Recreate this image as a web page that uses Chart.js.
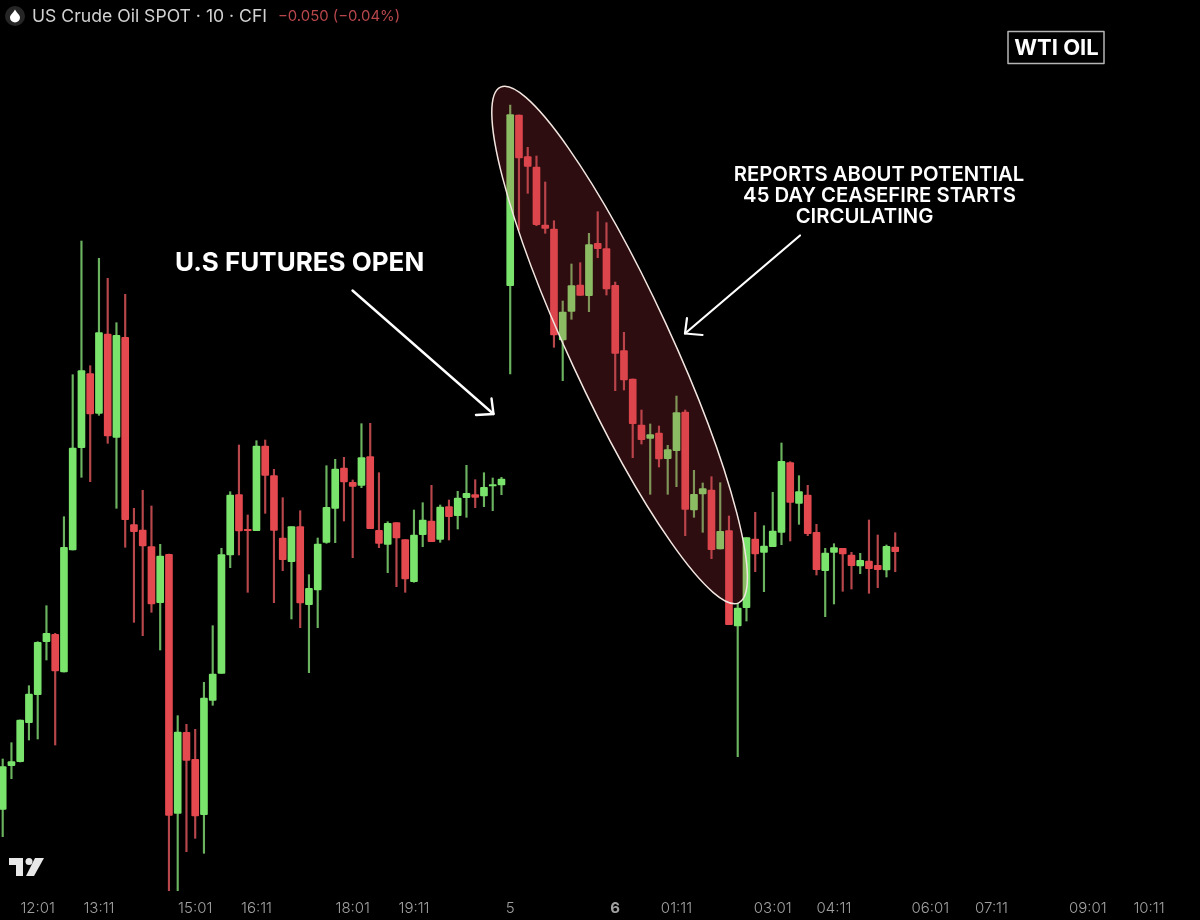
<!DOCTYPE html>
<html><head><meta charset="utf-8">
<style>html,body{margin:0;padding:0;background:#000;overflow:hidden}canvas{display:block}</style>
<script src="https://cdn.jsdelivr.net/npm/chart.js@4"></script>
</head><body><canvas id="c" width="1200" height="920"></canvas>
<script>
const opens=[110.7,154.3,158.3,197.3,225.3,278.3,285.7,248,370,472.3,546.3,506.7,586,482.7,582.7,395.3,390,373.3,317.3,365.7,106.7,187.7,160.7,105.3,219.7,246.7,365,425.3,390.7,389.3,474,444.3,382,358.3,393.3,315.3,330,377.7,411.7,452,437.7,434.7,463.3,389.7,375.7,397.3,380.3,338.3,385.3,399,380.7,413.3,404.3,422.3,425.3,424,434,435,634.3,805,763.3,753,695,691,580,608.7,635,624.3,676.7,671.3,634.7,569.3,541,495,481.7,487,461.3,469.3,508,410,426,430,371,389.3,294,312.3,381,367.7,373.3,387.7,457.3,416.7,425,387.7,349.3,367.7,371.7,365,354,359,354.7,350,373];
const closes=[153.3,158.3,200,226,277.7,286.7,249,372.7,472,549.3,506,587.3,484,584.7,400.3,388.3,374,316,364,104.7,188,159.7,104,222,246,365.3,425,389,389.3,474,444.7,389.7,360.3,393.3,317,331.7,376,412.7,451,438,433.7,462.3,391.3,376.7,396.7,382,341,385,400,378.3,413,403.3,422,426.7,422.7,432.7,435.3,441,805.3,762,753.7,695.3,691.7,585,608,634.3,624.7,675.3,671.3,631,566.5,540,496.3,480.3,485.3,461,470.3,507.3,410.7,425.7,431.3,370.3,388.7,295.3,312,382.3,366,374,389,458.7,417.7,428.3,386.3,350.3,367,372.3,366,354.3,359.7,351.3,350.3,373.7,368.3];
const highs=[161,177.3,200,234.3,278.3,314.3,286.7,403.3,545.3,679,554.3,661.7,641.7,597.3,625.7,411.7,429.7,414,375.7,366,204.3,195.7,190.7,237.7,294.3,371.7,428.3,475,405,479.3,480,450.7,422.3,393.3,409.3,345.3,382,454.3,460.7,462.7,440,496.3,496.7,447.3,398.3,397.3,380.3,410,417.3,434.7,415,420,428.7,454.7,440.3,447.3,442,442.7,815,805,772.7,764,738,699.3,619,656,657.3,686.7,708.3,697.3,638,587.7,541,510,496,494,474.7,524,510,449.7,437,443.3,437.3,404,316.7,382.3,407.7,394.3,427.7,477,458.3,444.3,434.7,395.7,371.7,376.3,371.7,367.7,366.7,400,385,375,387.3];
const lows=[83.3,141.3,158,180,181,260,175,248,370,442.7,438.3,504.7,476.7,411.7,372.7,297.7,284.3,307.7,270,29.3,29.3,68.3,81.7,66.7,214.7,246.7,352.3,365,327.7,389.3,406.7,317.3,349.3,301,292.3,247.3,292.3,376.7,377.3,399,362.3,432.3,391.3,372.3,347.3,333.3,327.7,337.7,373.3,378.3,377.7,380,391,402.7,412.3,413.3,409.3,425.3,546,690,726.7,694.3,686.7,572.7,539.3,600.7,624.7,608.3,662.3,625,529.3,530,462.3,476,425.7,453,425.7,433.3,384.3,402.7,387.7,361.3,371,295.3,163.3,299,348.3,328.3,373.3,375.3,379,395.7,384.3,345,303.3,316,328.7,331,346.3,326.7,332.3,343,348.3];
const tickIndex=[4,11,22,29,40,47,58,70,77,88,95,106,113,124,131];
const tickLabels=["12:01","13:11","15:01","16:11","18:01","19:11","5","6","01:11","03:01","04:11","06:01","07:11","09:01","10:11"];
const boldTick="6";
const titleText="US Crude Oil SPOT · 10 · CFI";
const changeText="−0.050 (−0.04%)";
const boxText="WTI OIL";
const noteLeft="U.S FUTURES OPEN";
const noteRight=["REPORTS ABOUT POTENTIAL","45 DAY CEASEFIRE STARTS","CIRCULATING"];

const GREEN='#7ae36c',RED='#e4494f',GREEN_W='#6bb35f',RED_W='#b8474c';
const isUp=i=>closes[i]>=opens[i];
const FONT='Inter, "Noto Sans", sans-serif';

function arrow(ctx,x1,y1,x2,y2,b1,b2,w){
  ctx.strokeStyle='#fff';ctx.lineWidth=w;ctx.lineCap='round';ctx.lineJoin='round';
  ctx.beginPath();ctx.moveTo(x1,y1);ctx.lineTo(x2,y2);ctx.stroke();
  ctx.beginPath();ctx.moveTo(b1[0],b1[1]);ctx.lineTo(x2,y2);ctx.lineTo(b2[0],b2[1]);ctx.stroke();
}
const overlay={id:'overlay',
 beforeDraw(c){const x=c.ctx;x.save();x.fillStyle='#000';x.fillRect(0,0,c.width,c.height);x.restore();},
 afterDatasetsDraw(c){
  const x=c.ctx,sx=c.scales.x,sy=c.scales.y;
  x.save();
  x.beginPath();
  x.ellipse(sx.getPixelForValue(70.5),sy.getPixelForValue(575),284,51,65.2*Math.PI/180,0,Math.PI*2);
  x.fillStyle='rgba(200,56,70,0.23)';x.fill();
  x.strokeStyle='#f3e6e0';x.lineWidth=1.5;x.stroke();
  arrow(x,352.5,290.5,493.5,414,[491.5,398.5],[476,415],2.4);
  arrow(x,800,235.5,685,333.5,[687,318],[702.5,335],2.2);
  x.fillStyle='#fff';x.textBaseline='middle';x.textAlign='left';
  x.font='700 26px '+FONT;x.fillText(noteLeft,175,263);
  x.textAlign='center';x.font='600 20.3px '+FONT;
  x.fillText(noteRight[0],879,175);x.fillText(noteRight[1],879.5,196);x.fillText(noteRight[2],864.5,216.5);
  x.strokeStyle='#b5b5b5';x.lineWidth=1.5;x.strokeRect(1008,31.5,96,32);
  x.font='700 22px '+FONT;x.fillText(boxText,1056.5,48);
  x.fillStyle='#262626';x.beginPath();x.arc(15,16,10,0,Math.PI*2);x.fill();
  x.fillStyle='#fff';x.beginPath();x.moveTo(15,9.5);x.bezierCurveTo(17,13,20,15,20,17.5);x.arc(15,17.5,5,0,Math.PI);x.bezierCurveTo(10,15,13,13,15,9.5);x.fill();
  x.textAlign='left';x.fillStyle='#d2d2d2';x.font='400 17.6px '+FONT;x.fillText(titleText,32,17);
  x.fillStyle='#b8474c';x.font='400 14.9px '+FONT;x.fillText(changeText,278,17);
  x.fillStyle='#e8e8e8';
  x.beginPath();x.moveTo(9,858);x.lineTo(23,858);x.lineTo(23,876);x.lineTo(16,876);x.lineTo(16,865);x.lineTo(9,865);x.closePath();x.fill();
  x.beginPath();x.arc(29,861.5,3.5,0,Math.PI*2);x.fill();
  x.beginPath();x.moveTo(35,858);x.lineTo(44,858);x.lineTo(34,876);x.lineTo(26,876);x.closePath();x.fill();
  x.restore();
 }};

const idx=opens.map((_,i)=>i);
new Chart(document.getElementById('c'),{
 type:'bar',
 data:{datasets:[
  {label:'Body',order:1,grouped:false,barThickness:7,borderRadius:1,borderSkipped:false,
   data:idx.map(i=>({x:i,y:[opens[i],closes[i]]})),
   backgroundColor:idx.map(i=>isUp(i)?GREEN:RED)},
  {label:'Wick',order:2,grouped:false,barThickness:1.5,
   data:idx.map(i=>({x:i,y:[lows[i],highs[i]]})),
   backgroundColor:idx.map(i=>isUp(i)?GREEN_W:RED_W)}
 ]},
 options:{responsive:false,animation:false,devicePixelRatio:1,
  layout:{padding:0},
  plugins:{legend:{display:false},tooltip:{enabled:false},title:{display:false}},
  scales:{
   x:{type:'linear',min:-0.3086,max:136.83,offset:false,
      grid:{display:false,drawTicks:false},border:{display:false},
      afterBuildTicks:s=>{s.ticks=tickIndex.map(v=>({value:v}));},
      afterFit:s=>{s.height=24;},
      ticks:{autoSkip:false,maxRotation:0,minRotation:0,padding:3,color:'#a0a0a0',
        font:ctx=>{const l=tickLabels[tickIndex.indexOf(ctx.tick&&ctx.tick.value)];
          return {family:'Inter, "Noto Sans", sans-serif',size:15,weight:l===boldTick?'700':'300'};},
        callback:v=>tickLabels[tickIndex.indexOf(v)]}},
   y:{display:false,min:24,max:920,grid:{display:false}}
  }},
 plugins:[overlay]
});
</script></body></html>
